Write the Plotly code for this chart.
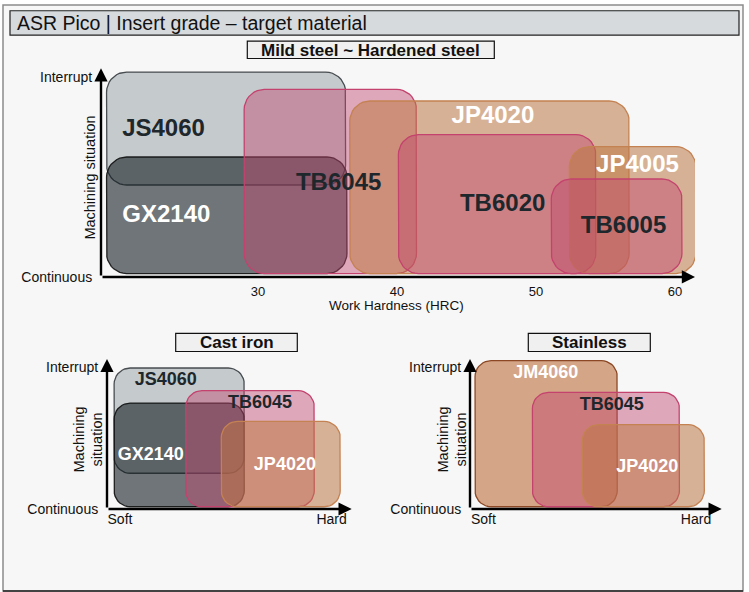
import numpy as np
import plotly.graph_objects as go

W, H = 749, 592          # reference picture size (layout positions are given in its pixels)
FIG_H = 602              # rendered height (the capture squeezes the page back to 592)
FONT = "Liberation Sans, Arial, Helvetica, sans-serif"

# ---------------- Data ----------------
# Top panel: Mild steel ~ Hardened steel (x = HRC, y = machining situation 0=continuous..100=interrupt)
MILD_GRADES = ["JS4060", "GX2140", "TB6045", "JP4020", "TB6020", "JP4005", "TB6005"]
MILD_X_LO = [19.1, 19.1, 29.0, 36.6, 40.1, 52.4, 51.1]
MILD_X_HI = [36.3, 36.4, 41.4, 56.7, 54.3, 61.5, 60.5]
MILD_Y_LO = [46.0, 1.7, 1.7, 1.7, 1.7, 1.7, 1.7]
MILD_Y_HI = [102.5, 60.0, 93.8, 88.0, 71.2, 65.2, 49.0]
MILD_LABEL_X = [23.2, 23.4, 35.8, 46.9, 47.6, 57.3, 56.3]
MILD_LABEL_Y = [73.3, 30.6, 46.7, 79.9, 36.1, 55.7, 25.2]
MILD_XTICKS = [30, 40, 50, 60]

# Bottom-left: Cast iron (x = 0 soft .. 100 hard)
CAST_GRADES = ["JS4060", "GX2140", "TB6045", "JP4020"]
CAST_X_LO = [2.9, 2.9, 32.2, 46.7]
CAST_X_HI = [56.1, 56.1, 84.7, 95.3]
CAST_Y_LO = [25.1, 1.6, 1.6, 1.6]
CAST_Y_HI = [99.0, 74.4, 83.1, 61.5]
CAST_LABEL_X = [24.0, 17.9, 62.5, 72.7]
CAST_LABEL_Y = [90.1, 37.5, 74.4, 30.5]

# Bottom-right: Stainless
STAIN_GRADES = ["JM4060", "TB6045", "JP4020"]
STAIN_X_LO = [2.0, 24.8, 44.6]
STAIN_X_HI = [58.5, 83.2, 93.1]
STAIN_Y_LO = [1.6, 1.6, 1.6]
STAIN_Y_HI = [104.2, 81.9, 59.2]
STAIN_LABEL_X = [30.1, 56.3, 70.4]
STAIN_LABEL_Y = [95.1, 72.7, 29.3]

SIT_TICKS = [0, 100]
SIT_LABELS = ["Continuous", "Interrupt"]
SOFTHARD_LABELS = ["Soft", "Hard"]
CAST_SH_POS = [5.3, 91.8]
STAIN_SH_POS = [5.3, 89.8]

# ---------------- Styles ----------------
STYLE = {
    "JS4060": dict(fill="rgba(163,173,177,0.6)", line="rgba(45,50,55,0.85)", text="#1e272c"),
    "GX2140": dict(fill="rgba(20,30,35,0.6)", line="rgba(15,15,15,0.9)", text="#ffffff"),
    "TB": dict(fill="rgba(193,70,110,0.45)", line="rgb(196,66,110)", text="#1e272c"),
    "JP": dict(fill="rgba(190,120,70,0.55)", line="rgb(196,130,82)", text="#ffffff"),
    "JM4060": dict(fill="rgba(190,110,60,0.6)", line="rgb(140,72,36)", text="#ffffff"),
}


def style_of(name):
    if name in STYLE:
        return STYLE[name]
    return STYLE[name[:2]]


# axis geometry (pixel positions in the reference)
PANELS = {
    "top": dict(xd=(101, 695), yd=(276, 68), xr=(18.70, 61.44), yr=(0, 104.4), r=20, fs=24),
    "cast": dict(xd=(107, 351.7), yd=(507.3, 357.7), xr=(0, 100), yr=(0, 105.4), r=16, fs=18),
    "stain": dict(xd=(470, 721.7), yd=(507.3, 357.7), xr=(0, 100), yr=(0, 105.4), r=16, fs=18),
}


def rrect(x0, x1, y0, y1, rx, ry, n=10):
    xs, ys = [], []
    corners = [
        (x1 - rx, y0 + ry, -np.pi / 2, 0),
        (x1 - rx, y1 - ry, 0, np.pi / 2),
        (x0 + rx, y1 - ry, np.pi / 2, np.pi),
        (x0 + rx, y0 + ry, np.pi, 1.5 * np.pi),
    ]
    for cx, cy, a0, a1 in corners:
        t = np.linspace(a0, a1, n)
        xs.extend(cx + rx * np.cos(t))
        ys.extend(cy + ry * np.sin(t))
    xs.append(xs[0])
    ys.append(ys[0])
    return xs, ys


fig = go.Figure()
axis_ids = {"top": ("x", "y"), "cast": ("x2", "y2"), "stain": ("x3", "y3")}


def add_panel(key, grades, xlo, xhi, ylo, yhi, lx, ly):
    p = PANELS[key]
    xa, ya = axis_ids[key]
    kx = (p["xd"][1] - p["xd"][0]) / (p["xr"][1] - p["xr"][0])
    ky = (p["yd"][0] - p["yd"][1]) / (p["yr"][1] - p["yr"][0])
    rx, ry = p["r"] / kx, p["r"] / ky
    for g, a, b, c, d in zip(grades, xlo, xhi, ylo, yhi):
        s = style_of(g)
        xs, ys = rrect(a, b, c, d, rx, ry)
        fig.add_trace(go.Scatter(x=xs, y=ys, mode="lines", fill="toself",
                                 fillcolor=s["fill"], line=dict(color=s["line"], width=1.3),
                                 xaxis=xa, yaxis=ya, hoverinfo="skip", showlegend=False))
    for g, x, y in zip(grades, lx, ly):
        s = style_of(g)
        fig.add_trace(go.Scatter(x=[x], y=[y], mode="text", text=[f"<b>{g}</b>"],
                                 textfont=dict(family=FONT, size=p["fs"], color=s["text"]),
                                 xaxis=xa, yaxis=ya, hoverinfo="skip", showlegend=False))


add_panel("top", MILD_GRADES, MILD_X_LO, MILD_X_HI, MILD_Y_LO, MILD_Y_HI, MILD_LABEL_X, MILD_LABEL_Y)
add_panel("cast", CAST_GRADES, CAST_X_LO, CAST_X_HI, CAST_Y_LO, CAST_Y_HI, CAST_LABEL_X, CAST_LABEL_Y)
add_panel("stain", STAIN_GRADES, STAIN_X_LO, STAIN_X_HI, STAIN_Y_LO, STAIN_Y_HI, STAIN_LABEL_X, STAIN_LABEL_Y)


def px_x(v):
    return v / W


def px_y(v):
    return 1 - v / H


tickfont = dict(family=FONT, size=14, color="#111")
common = dict(showgrid=False, zeroline=False, showline=False, fixedrange=True)

layout_axes = {}
for key, (xa, ya) in axis_ids.items():
    p = PANELS[key]
    xname = "xaxis" if xa == "x" else "xaxis" + xa[1:]
    yname = "yaxis" if ya == "y" else "yaxis" + ya[1:]
    if key == "top":
        xt = dict(tickvals=MILD_XTICKS, ticktext=[str(v) for v in MILD_XTICKS],
                  tickfont=dict(family=FONT, size=13, color="#111"), ticks="outside", ticklen=2)
    else:
        pos = CAST_SH_POS if key == "cast" else STAIN_SH_POS
        xt = dict(tickvals=pos, ticktext=SOFTHARD_LABELS, tickfont=tickfont, ticks="")
    layout_axes[xname] = dict(domain=[px_x(p["xd"][0]), px_x(p["xd"][1])], range=list(p["xr"]),
                              anchor=ya, tickcolor="rgba(0,0,0,0)", **xt, **common)
    layout_axes[yname] = dict(domain=[px_y(p["yd"][0]), px_y(p["yd"][1])], range=list(p["yr"]),
                              anchor=xa, tickvals=SIT_TICKS, ticktext=SIT_LABELS, tickfont=tickfont,
                              ticks="outside", ticklen=5, tickcolor="rgba(0,0,0,0)", **common)

annotations = []
# axis arrows
for key, (xa, ya) in axis_ids.items():
    p = PANELS[key]
    x0, x1 = p["xr"]
    y0, y1 = p["yr"]
    for (tx, ty) in [(x1, y0), (x0, y1)]:
        annotations.append(dict(x=tx, y=ty, ax=x0, ay=y0, xref=xa, yref=ya, axref=xa, ayref=ya,
                                text="", showarrow=True, arrowhead=2, arrowsize=1.1,
                                arrowwidth=2.4, arrowcolor="#000"))


def ann(x, y, text, size, **kw):
    d = dict(x=px_x(x), y=px_y(y), xref="paper", yref="paper", text=text, showarrow=False,
             xanchor="center", yanchor="middle", font=dict(family=FONT, size=size, color="#111"))
    d.update(kw)
    annotations.append(d)


# axis titles
ann(396, 304, "Work Hardness (HRC)", 13.5)
ann(90, 177, "Machining situation", 14.5, textangle=-90)
for cx in [88, 452]:
    ann(cx, 438, "Machining<br>situation", 14.5, textangle=-90)

# header & panel titles
ann(15, 23, "ASR Pico | Insert grade \u2013 target material", 19.5, xanchor="left")
panel_titles = [("Mild steel ~ Hardened steel", 247.3, 494.3, 41, 58.3),
                ("Cast iron", 175.7, 297.3, 332.3, 350.3),
                ("Stainless", 528.3, 650.3, 332.3, 350.3)]
shapes = [
    dict(type="rect", xref="paper", yref="paper", x0=px_x(3), x1=px_x(743), y0=px_y(589), y1=px_y(5),
         fillcolor="#f7f7f7", line=dict(color="#8c8c8c", width=1.5), layer="below"),
    dict(type="line", xref="paper", yref="paper", x0=px_x(3), x1=px_x(743), y0=px_y(589), y1=px_y(589),
         line=dict(color="#222", width=1.5), layer="below"),
    dict(type="rect", xref="paper", yref="paper", x0=px_x(10), x1=px_x(739), y0=px_y(35), y1=px_y(10.7),
         fillcolor="#d6dadd", line=dict(color="#222", width=1.2), layer="below"),
]
for t, a, b, c, d in panel_titles:
    shapes.append(dict(type="rect", xref="paper", yref="paper", x0=px_x(a), x1=px_x(b), y0=px_y(d), y1=px_y(c),
                       fillcolor="#f0f0f0", line=dict(color="#111", width=1.2), layer="below"))
    ann((a + b) / 2, (c + d) / 2 + 0.5, f"<b>{t}</b>", 17)

fig.update_layout(width=W, height=FIG_H, autosize=False, margin=dict(l=0, r=0, t=0, b=0),
                  paper_bgcolor="#ffffff", plot_bgcolor="rgba(0,0,0,0)",
                  shapes=shapes, annotations=annotations, showlegend=False, **layout_axes)

fig.write_html("out.html", config={"displayModeBar": False, "responsive": False},
               post_script="document.body.style.margin='0';document.body.style.overflow='hidden';"
                           "document.documentElement.style.overflow='hidden';")
